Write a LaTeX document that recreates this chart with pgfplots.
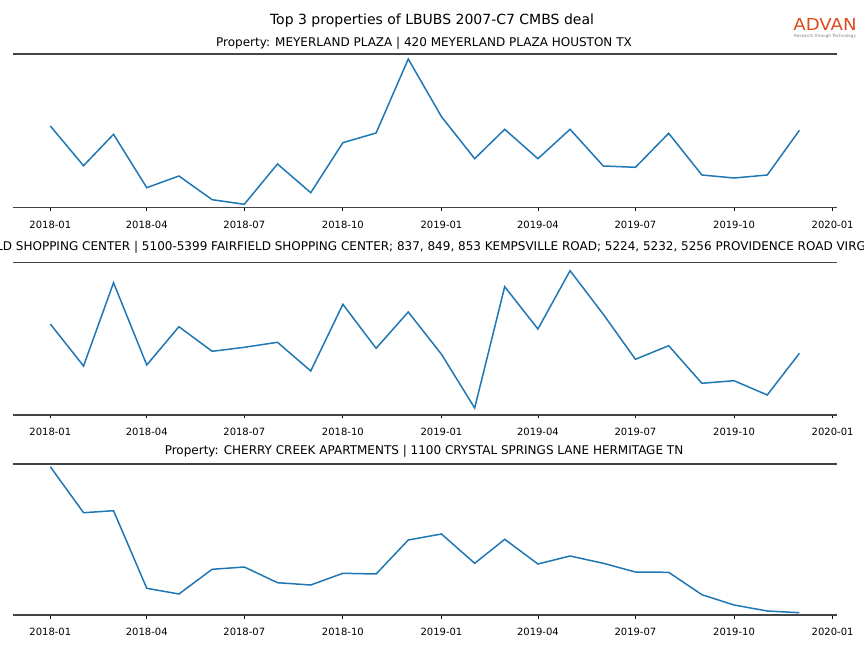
\documentclass[border=0pt]{standalone}
\usepackage{fontspec}
\setmainfont{DejaVu Sans}
\usepackage{pgfplots}
\pgfplotsset{compat=1.18}

\definecolor{mplblue}{HTML}{1F77B4}
\definecolor{spinecol}{HTML}{444444}
\definecolor{advan}{HTML}{E04A20}

% x values are days since 2018-01-01, one point per month
\pgfplotsset{
  panel/.style={
    scale only axis,
    width=824pt,
    xmin=-34.95, xmax=733.95,
    ymin=0,
    axis line style={draw=none},
    xtick={0,90,181,273,365,455,546,638,730},
    xticklabels={2018-01,2018-04,2018-07,2018-10,2019-01,2019-04,2019-07,2019-10,2020-01},
    xtick pos=bottom,
    tick align=outside,
    major tick length=3.5pt,
    tick style={black, line width=0.8pt},
    ytick=\empty,
    xticklabel style={font=\fontsize{10}{12}\selectfont, yshift=-6.5pt},
    clip=false,
  },
}
\newcommand{\spines}{%
  \draw[spinecol, line width=1.6pt] (rel axis cs:0,0) -- (rel axis cs:1,0);
  \draw[spinecol, line width=1.6pt] (rel axis cs:0,1) -- (rel axis cs:1,1);
}

\begin{document}
\begin{tikzpicture}[x=1pt,y=1pt]
\useasboundingbox (0,0) rectangle (864,648);

% suptitle and logo
\node[anchor=base, font=\fontsize{14}{16}\selectfont] at (432,623.5) {Top 3 properties of LBUBS 2007-C7 CMBS deal};
\node[anchor=base, text=advan, font=\fontsize{16.5}{18}\selectfont, xscale=1.1, inner sep=0] at (825,617.5) {ADVAN};
\node[anchor=base, text=gray, font=\fontsize{4.2}{5}\selectfont, inner sep=0] at (825,610) {Research through Technology};

% panel 1
\begin{axis}[panel, height=153.5pt, ymax=153.5, at={(12,440.5)}, anchor=south west]
\addplot[mplblue, line width=1.5pt] coordinates {
(0,81.5) (31,41.8) (59,73.2) (90,19.8) (120,31.5) (151,7.8) (181,3.2) (212,43.5)
(243,14.8) (273,64.8) (304,74.5) (334,148.5) (365,90.8) (396,48.8) (424,78.2) (455,48.8)
(485,78.2) (516,41.5) (546,40.2) (577,74.2) (608,32.5) (638,29.5) (669,32.5) (699,77.2)
};
\spines
\end{axis}
\node[anchor=base, font=\fontsize{12}{14}\selectfont] at (424,601.5) {Property: MEYERLAND PLAZA | 420 MEYERLAND PLAZA HOUSTON TX};

% panel 2
\begin{axis}[panel, height=152.3pt, ymax=152.3, at={(12,233)}, anchor=south west]
\addplot[mplblue, line width=1.5pt] coordinates {
(0,91) (31,49) (59,132.3) (90,50) (120,88.3) (151,63.7) (181,67.7) (212,72.7)
(243,44) (273,110.7) (304,66.7) (334,103) (365,60.7) (396,7) (424,128.3) (455,86)
(485,144.3) (516,100.7) (546,55.7) (577,69.3) (608,31.7) (638,34.3) (669,20) (699,61.7)
};
\spines
\end{axis}
\node[anchor=base, font=\fontsize{12}{14}\selectfont] at (424,397) {Property: FAIRFIELD SHOPPING CENTER | 5100-5399 FAIRFIELD SHOPPING CENTER; 837, 849, 853 KEMPSVILLE ROAD; 5224, 5232, 5256 PROVIDENCE ROAD VIRGINIA BEACH VA};

% panel 3
\begin{axis}[panel, height=151pt, ymax=151, at={(12,33)}, anchor=south west]
\addplot[mplblue, line width=1.5pt] coordinates {
(0,148.3) (31,102.3) (59,104.3) (90,26.7) (120,21) (151,45.7) (181,48) (212,32.3)
(243,30) (273,41.7) (304,41) (334,75) (365,81) (396,51.7) (424,75.7) (455,51)
(485,59) (516,51.7) (546,43) (577,42.7) (608,20.3) (638,10) (669,4) (699,2.3)
};
\spines
\end{axis}
\node[anchor=base, font=\fontsize{12}{14}\selectfont] at (424,193) {Property: CHERRY CREEK APARTMENTS | 1100 CRYSTAL SPRINGS LANE HERMITAGE TN};

\end{tikzpicture}
\end{document}
